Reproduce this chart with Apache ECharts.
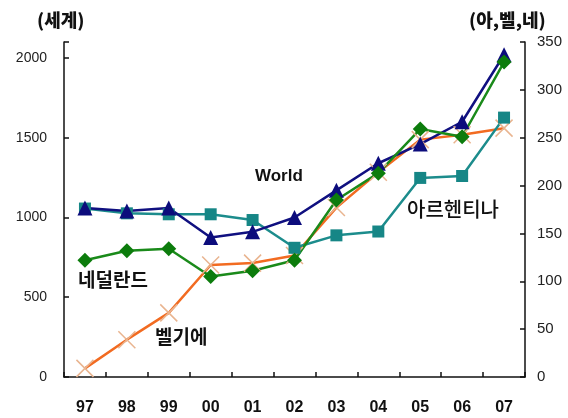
<!DOCTYPE html>
<html>
<head>
<meta charset="utf-8">
<script src="https://cdn.jsdelivr.net/npm/echarts@6/dist/echarts.min.js"></script>
<style>html,body{margin:0;padding:0;background:#fff}#c{width:568px;height:418px}</style>
</head>
<body>
<div id="c"></div>
<script>
const years = ['97','98','99','00','01','02','03','04','05','06','07'];
const world = [1060,1040,1060,875,910,1000,1170,1340,1460,1600,2020];
const argentina = [176,171,170,170,164,135,148,152,208,210,271];
const netherlands = [122,132,134,105,111,122,185,213,259,251,329];
const belgium = [9,39,67,117,119,127,177,214,248,253,260];
const leftTicks = [0,500,1000,1500,2000];
const rightTicks = [0,50,100,150,200,250,300,350];

const chart = echarts.init(document.getElementById('c'));
const axisLine = {show:true, lineStyle:{color:'#111', width:1.5}};
const tick = {show:true, inside:true, length:5, lineStyle:{color:'#111', width:1.5}};
const xMark = 'path://M0,0L20,20M20,0L0,20';
chart.setOption({
  animation:false,
  grid:{left:64, right:43, top:42, bottom:41},
  xAxis:{type:'category', data:years, boundaryGap:true,
    axisLine:axisLine, axisTick:tick,
    axisLabel:{margin:23, fontFamily:'Liberation Sans Narrow, Liberation Sans, Arial', fontWeight:'bold', fontSize:16, color:'#111'}},
  yAxis:[
    {type:'value', min:0, max:2100, interval:500, position:'left',
     axisLine:axisLine, axisTick:tick, splitLine:{show:false},
     axisLabel:{margin:17, fontFamily:'Liberation Sans, Arial', fontSize:14, color:'#222',
       formatter:v => leftTicks.includes(v) ? String(v) : ''}},
    {type:'value', min:0, max:350, interval:50, position:'right',
     axisLine:axisLine, axisTick:tick, splitLine:{show:false},
     axisLabel:{margin:12, fontFamily:'Liberation Sans Narrow, Liberation Sans, Arial', fontSize:15, color:'#222',
       formatter:v => rightTicks.includes(v) ? String(v) : ''}}
  ],
  series:[
    {name:'벨기에', type:'line', yAxisIndex:1, data:belgium, symbol:xMark, symbolSize:17,
     lineStyle:{color:'#f26b21', width:2.5}, itemStyle:{color:'none', borderColor:'#e9b48f', borderWidth:1.5}},
    {name:'아르헨티나', type:'line', yAxisIndex:1, data:argentina, symbol:'rect', symbolSize:12,
     lineStyle:{color:'#1c8c8c', width:2.5}, itemStyle:{color:'#168686'}},
    {name:'World', type:'line', yAxisIndex:0, data:world, symbol:'triangle', symbolSize:15,
     lineStyle:{color:'#101080', width:2.5}, itemStyle:{color:'#0c0c7c'}},
    {name:'네덜란드', type:'line', yAxisIndex:1, data:netherlands, symbol:'diamond', symbolSize:15,
     lineStyle:{color:'#1a8a1a', width:2.5}, itemStyle:{color:'#0c7c0c'}}
  ],
  graphic:[
    {type:'text', left:37, top:11, style:{text:'(세계)', font:'900 18px "Noto Sans CJK KR"', fill:'#111'}},
    {type:'text', left:469, top:11, style:{text:'(아,벨,네)', font:'900 18px "Noto Sans CJK KR"', fill:'#111'}},
    {type:'text', left:255, top:168, style:{text:'World', font:'bold 17px "Liberation Sans", Arial', fill:'#111'}},
    {type:'text', left:407, top:199, style:{text:'아르헨티나', font:'500 20px "Noto Sans CJK KR"', fill:'#111'}},
    {type:'text', left:78, top:270, style:{text:'네덜란드', font:'bold 19px "Noto Sans CJK KR"', fill:'#111'}},
    {type:'text', left:155, top:327, style:{text:'벨기에', font:'bold 19px "Noto Sans CJK KR"', fill:'#111'}}
  ]
});
</script>
</body>
</html>
